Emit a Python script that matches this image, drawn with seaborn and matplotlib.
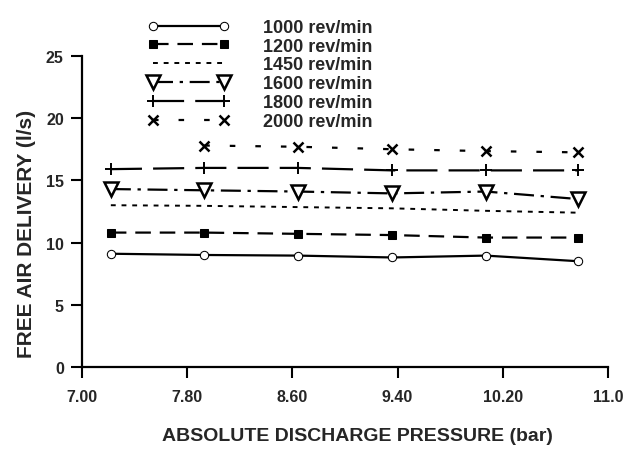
import numpy as np
import pandas as pd
import seaborn as sns
import matplotlib
matplotlib.use("Agg")
import matplotlib.pyplot as plt
from matplotlib.lines import Line2D
from matplotlib.legend_handler import HandlerLine2D

# absolute discharge pressure (bar)
pressure = [7.22, 7.93, 8.64, 9.36, 10.07, 10.77]

# free air delivery (l/s) per speed
fad_1000 = [9.1, 9.0, 8.95, 8.8, 8.95, 8.5]
fad_1200 = [10.8, 10.8, 10.7, 10.6, 10.4, 10.4]
fad_1450 = [13.0, 12.95, 12.85, 12.75, 12.55, 12.4]
fad_1600 = [14.3, 14.2, 14.1, 13.95, 14.1, 13.5]
fad_1800 = [15.9, 16.0, 16.0, 15.8, 15.8, 15.8]
fad_2000 = [np.nan, 17.8, 17.7, 17.5, 17.35, 17.25]

labels = ["1000 rev/min", "1200 rev/min", "1450 rev/min",
          "1600 rev/min", "1800 rev/min", "2000 rev/min"]
series = [fad_1000, fad_1200, fad_1450, fad_1600, fad_1800, fad_2000]

x_ticks = [7.0, 7.8, 8.6, 9.4, 10.2, 11.0]
x_ticklabels = ["7.00", "7.80", "8.60", "9.40", "10.20", "11.0"]
y_ticks = [0, 5, 10, 15, 20, 25]

# line styles
styles = [
    dict(linestyle="-", marker="o", markerfacecolor="white", markersize=6),
    dict(linestyle=(0, (7, 4)), marker="s", markerfacecolor="black", markersize=6),
    dict(linestyle=(0, (2.5, 3)), marker="", linewidth=1.4),
    dict(linestyle=(0, (9, 3, 1.5, 3)), marker="v", markerfacecolor="white",
         markersize=10, markeredgewidth=1.8),
    dict(linestyle=(0, (14, 5)), marker="+", markersize=9, markeredgewidth=1.4),
    dict(linestyle=(0, (2.5, 9)), marker="x", markersize=7, markeredgewidth=1.8),
]

sns.set_theme(style="ticks")
plt.rcParams["font.family"] = ["Liberation Sans", "DejaVu Sans"]

fig = plt.figure(figsize=(6.4, 4.52), dpi=100)
ax = fig.add_axes([0.128, 0.186, 0.822, 0.688])

for lab, vals, st in zip(labels, series, styles):
    df = pd.DataFrame({"p": pressure, "q": vals}).dropna()
    kw = dict(color="black", linewidth=1.6, markeredgecolor="black")
    kw.update(st)
    sns.lineplot(data=df, x="p", y="q", ax=ax, label=lab, **kw)

ax.set_xlim(7.0, 11.0)
ax.set_ylim(0, 25)
ax.set_xticks(x_ticks)
ax.set_xticklabels(x_ticklabels)
ax.set_yticks(y_ticks)
ax.tick_params(axis="both", direction="out", length=8, width=1.5, color="black",
               labelsize=11.5)
ax.tick_params(axis="x", pad=8)
ax.tick_params(axis="y", pad=5)
for t in ax.get_xticklabels() + ax.get_yticklabels():
    t.set_fontweight("bold")

sns.despine(ax=ax)
for sp in ["left", "bottom"]:
    ax.spines[sp].set_linewidth(1.6)
    ax.spines[sp].set_color("black")

ax.set_xlabel("ABSOLUTE DISCHARGE PRESSURE (bar)", fontsize=14,
              fontweight="bold")
ax.xaxis.set_label_coords(0.523, -0.222)
ax.xaxis.label.set_va("center")
ax.set_ylabel("FREE AIR DELIVERY (l/s)", fontsize=15, fontweight="bold")
ax.yaxis.set_label_coords(-0.105, 0.43)
ax.yaxis.label.set_va("center")

ax.legend(loc="upper left", bbox_to_anchor=(0.186, 0.976),
          bbox_transform=fig.transFigure, frameon=False,
          handler_map={Line2D: HandlerLine2D(numpoints=2, marker_pad=1.4)},
          handlelength=6.7, handletextpad=0.8, labelspacing=0.1,
          borderpad=0, prop={"size": 13, "weight": "bold"})

fig.savefig("out.png", dpi=100)
